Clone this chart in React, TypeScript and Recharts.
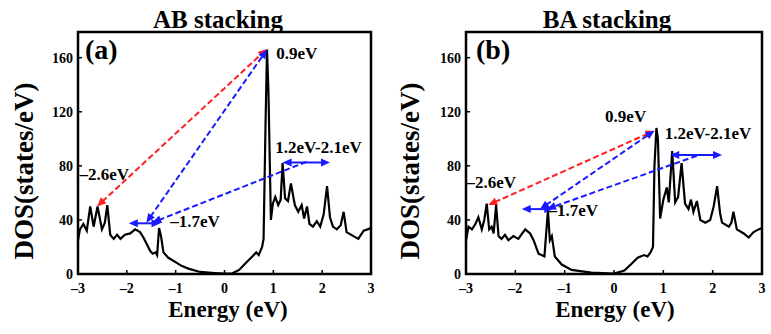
import React from "react";
import { LineChart, Line, XAxis, YAxis, ReferenceLine, ReferenceDot, ReferenceArea } from "recharts";

// DOS curves: [energy (eV), DOS (states/eV)]
const dosAB: [number, number][] = [
  [-3.0, 25], [-2.96, 33], [-2.89, 37], [-2.82, 32], [-2.75, 50], [-2.68, 35], [-2.6, 50],
  [-2.51, 33], [-2.45, 38], [-2.4, 51], [-2.34, 29], [-2.27, 26], [-2.2, 29], [-2.13, 26],
  [-2.04, 29], [-1.93, 30], [-1.83, 33], [-1.73, 31], [-1.66, 27], [-1.59, 22], [-1.52, 17],
  [-1.47, 15], [-1.41, 16], [-1.38, 14], [-1.34, 34], [-1.3, 28], [-1.25, 16], [-1.15, 12],
  [-1.01, 9], [-0.88, 6], [-0.74, 4], [-0.5, 1.5], [-0.2, 0.7], [0, 0.3], [0.16, 0.5],
  [0.3, 3], [0.43, 8], [0.57, 13], [0.65, 16], [0.7, 14], [0.77, 20], [0.8, 26],
  [0.84, 110], [0.87, 166], [0.9, 135], [0.95, 40], [0.99, 52], [1.04, 57], [1.1, 51],
  [1.15, 55], [1.19, 82], [1.24, 56], [1.3, 54], [1.36, 67], [1.44, 51], [1.51, 46],
  [1.58, 51], [1.63, 41], [1.69, 50], [1.74, 37], [1.81, 35], [1.89, 39], [1.96, 35],
  [2.03, 44], [2.1, 65], [2.16, 42], [2.22, 35], [2.3, 33], [2.38, 36], [2.44, 46],
  [2.5, 31], [2.64, 28], [2.74, 26], [2.85, 32], [2.93, 33], [3.0, 34],
];

const dosBA: [number, number][] = [
  [-3.0, 25], [-2.95, 35], [-2.88, 33], [-2.81, 37], [-2.75, 42], [-2.68, 33], [-2.63, 40],
  [-2.58, 52], [-2.53, 33], [-2.48, 35], [-2.44, 30], [-2.39, 51], [-2.34, 28], [-2.28, 26],
  [-2.21, 29], [-2.14, 25], [-2.04, 28], [-1.94, 26], [-1.8, 33], [-1.7, 30], [-1.63, 25],
  [-1.53, 15], [-1.47, 14], [-1.41, 13], [-1.34, 47], [-1.3, 25], [-1.26, 28], [-1.2, 13],
  [-1.06, 7], [-0.86, 3], [-0.46, 1], [0, 0.3], [0.21, 2.5], [0.34, 7], [0.48, 12],
  [0.61, 14], [0.68, 13], [0.74, 16], [0.79, 20], [0.82, 80], [0.86, 108], [0.89, 100],
  [0.935, 41], [1.0, 55], [1.07, 64], [1.11, 53], [1.18, 91], [1.24, 53], [1.3, 57],
  [1.37, 82], [1.44, 52], [1.51, 48], [1.56, 55], [1.61, 46], [1.68, 54], [1.75, 40],
  [1.85, 38], [1.95, 40], [2.02, 50], [2.09, 65], [2.15, 45], [2.19, 38], [2.33, 35],
  [2.38, 38], [2.42, 46], [2.49, 33], [2.63, 30], [2.73, 27], [2.83, 31], [2.93, 33], [3.0, 34],
];

const xTicks = [-3, -2, -1, 0, 1, 2, 3];
const yTicks = [0, 40, 80, 120, 160];

// transition arrows, in data coordinates
const arrowsAB = [
  { from: [-2.61, 50], to: [0.87, 166.5], kind: "red" },
  { from: [-1.6, 38], to: [0.87, 166], kind: "blue" },
  { from: [1.68, 83], to: [-1.48, 38], kind: "blueTail" },
  { from: [-1.96, 37.5], to: [-1.31, 37.5], kind: "blueSolid" },
  { from: [1.19, 82.5], to: [2.16, 82.5], kind: "blueSolid" },
];
const arrowsBA = [
  { from: [-2.55, 51], to: [0.82, 106], kind: "red" },
  { from: [-1.5, 48], to: [0.82, 106], kind: "blue" },
  { from: [1.68, 87.5], to: [-1.36, 48], kind: "blueTail" },
  { from: [-1.87, 48], to: [-1.23, 48], kind: "blueSolid" },
  { from: [1.14, 88], to: [2.19, 88], kind: "blueSolid" },
];

const labelsAB = [
  { text: "0.9eV", at: [1.06, 163.5] },
  { text: "1.2eV-2.1eV", at: [1.04, 94] },
  { text: "\u20132.6eV", at: [-2.97, 74] },
  { text: "\u20131.7eV", at: [-1.11, 39] },
];
const labelsBA = [
  { text: "0.9eV", at: [-0.18, 116.6] },
  { text: "1.2eV-2.1eV", at: [1.03, 104] },
  { text: "\u20132.6eV", at: [-2.99, 68] },
  { text: "\u20131.7eV", at: [-1.33, 47.4] },
];

const SERIF = "'Liberation Serif', 'DejaVu Serif', serif";
const Y_MAX = 179;
const bold = { fontFamily: SERIF, fontWeight: 700 };

const arrowStyles: Record<string, { color: string; dash?: string; start: boolean }> = {
  red: { color: "#ff1f1f", dash: "6 3", start: true },
  blue: { color: "#1a1aff", dash: "6 3", start: true },
  blueTail: { color: "#1a1aff", dash: "6 3", start: false },
  blueSolid: { color: "#1a1aff", start: true },
};

const head = (x: number, y: number, fx: number, fy: number, color: string) => {
  const a = Math.atan2(y - fy, x - fx);
  const L = 9;
  const W = 4;
  const bx = x - L * Math.cos(a);
  const by = y - L * Math.sin(a);
  const px = -Math.sin(a) * W;
  const py = Math.cos(a) * W;
  return <polygon points={`${x},${y} ${bx + px},${by + py} ${bx - px},${by - py}`} fill={color} />;
};

const arrowShape = (kind: string) => (p: any) => {
  const s = arrowStyles[kind];
  const { x1, y1, x2, y2 } = p;
  const a = Math.atan2(y2 - y1, x2 - x1);
  const c = Math.cos(a) * 7;
  const d = Math.sin(a) * 7;
  return (
    <g>
      <line
        x1={s.start ? x1 + c : x1}
        y1={s.start ? y1 + d : y1}
        x2={x2 - c}
        y2={y2 - d}
        stroke={s.color}
        strokeWidth={2}
        strokeDasharray={s.dash}
      />
      {s.start && head(x1, y1, x2, y2, s.color)}
      {head(x2, y2, x1, y1, s.color)}
    </g>
  );
};

const textShape = (text: string) => (p: any) => (
  <text x={p.cx} y={p.cy} dy="0.35em" style={{ ...bold, fontSize: 17 }} fill="#000">
    {text}
  </text>
);

const fmt = (v: number) => (v < 0 ? `\u2013${-v}` : `${v}`);
const tickStyle = { fill: "#000", fontSize: 14, style: { ...bold } };

interface PanelProps {
  left: number;
  width: number;
  yAxisWidth: number;
  right: number;
  data: [number, number][];
  arrows: { from: number[]; to: number[]; kind: string }[];
  labels: { text: string; at: number[] }[];
  title: string;
  tag: string;
  titleX: number;
  tagX: number;
  xLabelX: number;
  yLabelX: number;
}

const Panel: React.FC<PanelProps> = (props) => {
  const rows = props.data.map(([e, d]) => ({ e, d }));
  return (
    <div style={{ position: "absolute", left: props.left, top: 0, width: props.width, height: 334 }}>
      <LineChart width={props.width} height={334} data={rows} margin={{ top: 32, right: props.right, bottom: 0, left: 0 }}>
        <XAxis
          dataKey="e"
          type="number"
          domain={[-3, 3]}
          ticks={xTicks}
          interval={0}
          height={60}
          axisLine={false}
          tickSize={-4}
          tickMargin={13}
          tickLine={{ stroke: "#000", strokeWidth: 1.5 }}
          tick={tickStyle}
          tickFormatter={fmt}
        />
        <YAxis
          type="number"
          domain={[0, Y_MAX]}
          ticks={yTicks}
          interval={0}
          width={props.yAxisWidth}
          axisLine={false}
          tickSize={-4}
          tickMargin={9}
          tickLine={{ stroke: "#000", strokeWidth: 1.5 }}
          tick={tickStyle}
        />
        <Line type="linear" dataKey="d" stroke="#000" strokeWidth={2.2} dot={false} isAnimationActive={false} />
        {props.arrows.map((a, i) => (
          <ReferenceLine
            key={`a${i}`}
            segment={[{ x: a.from[0], y: a.from[1] }, { x: a.to[0], y: a.to[1] }]}
            shape={arrowShape(a.kind)}
          />
        ))}
        {props.labels.map((l, i) => (
          <ReferenceDot key={`l${i}`} x={l.at[0]} y={l.at[1]} r={0} shape={textShape(l.text)} />
        ))}
        <ReferenceArea x1={-3} x2={3} y1={0} y2={Y_MAX} fill="none" stroke="#000" strokeWidth={2.5} />
      </LineChart>
      <svg width={props.width} height={334} style={{ position: "absolute", left: 0, top: 0, pointerEvents: "none" }}>
        <g style={bold} fill="#000">
          <text x={props.titleX} y={28} textAnchor="middle" fontSize={25}>{props.title}</text>
          <text x={props.tagX} y={59} fontSize={28}>{props.tag}</text>
          <text transform={`translate(${props.yLabelX},171) rotate(-90)`} textAnchor="middle" fontSize={27}>
            DOS(states/eV)
          </text>
          <text x={props.xLabelX} y={317} textAnchor="middle" fontSize={23}>Energy (eV)</text>
        </g>
      </svg>
    </div>
  );
};

export default function App() {
  return (
    <div style={{ position: "absolute", left: 0, top: 0, width: 771, height: 334, background: "#fff" }}>
      <Panel
        left={0}
        width={385}
        yAxisWidth={78}
        right={14}
        data={dosAB}
        arrows={arrowsAB}
        labels={labelsAB}
        title="AB stacking"
        tag="(a)"
        titleX={218}
        tagX={85}
        xLabelX={228}
        yLabelX={33}
      />
      <Panel
        left={385}
        width={386}
        yAxisWidth={81}
        right={9}
        data={dosBA}
        arrows={arrowsBA}
        labels={labelsBA}
        title="BA stacking"
        tag="(b)"
        titleX={222}
        tagX={91}
        xLabelX={230}
        yLabelX={34}
      />
    </div>
  );
}
